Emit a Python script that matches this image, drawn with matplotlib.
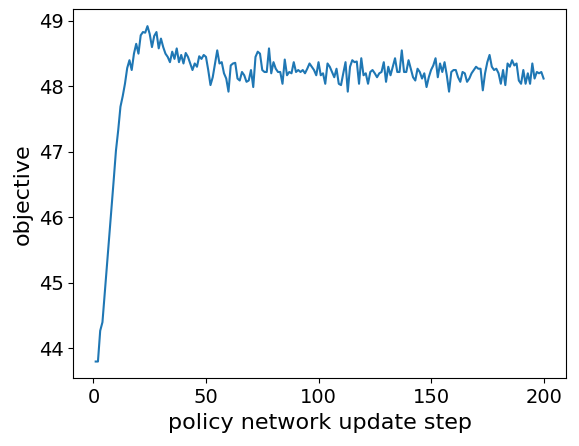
import matplotlib
matplotlib.use("Agg")
import matplotlib.pyplot as plt
import numpy as np

steps = list(range(1, 201))
objective = [
    43.80, 43.80, 44.27, 44.40, 44.83, 45.27, 45.70, 46.13, 46.57, 47.02,
    47.33, 47.69, 47.85, 48.04, 48.28, 48.40, 48.25, 48.50, 48.65, 48.50,
    48.78, 48.83, 48.82, 48.92,
    48.80, 48.60, 48.77, 48.83, 48.58, 48.73, 48.60, 48.50, 48.45, 48.37,
    48.53, 48.42, 48.58, 48.37, 48.48, 48.35, 48.51, 48.45, 48.35, 48.25,
    48.35, 48.30, 48.46, 48.42, 48.48, 48.45, 48.25, 48.02, 48.14, 48.35,
    48.55, 48.35, 48.37, 48.20, 48.12, 47.92,
    48.32, 48.35, 48.36, 48.12, 48.09, 48.22, 48.17, 48.07, 48.09, 48.25,
    47.99, 48.45, 48.53, 48.50, 48.25, 48.22, 48.22, 48.58, 48.20, 48.37,
    48.27, 48.22, 48.22, 48.04, 48.41, 48.17, 48.22, 48.20, 48.37, 48.22,
    48.25, 48.22, 48.25, 48.20, 48.27, 48.35, 48.30, 48.25, 48.17, 48.37,
    48.17,
    48.20, 48.04, 48.35, 48.30, 48.22, 48.14, 48.27, 48.04, 48.02, 48.20,
    48.37, 47.92, 48.30, 48.40, 48.37, 48.38, 48.04, 48.43, 48.17, 48.20,
    48.04, 48.22, 48.25, 48.20, 48.14, 48.20, 48.22, 48.37, 48.07, 48.30,
    48.17, 48.30, 48.43, 48.22, 48.22, 48.55, 48.22, 48.22, 48.40, 48.27,
    48.14, 48.09, 48.27, 48.22, 48.12, 48.20, 47.99, 48.14, 48.25, 48.32,
    48.43, 48.14, 48.35, 48.22, 48.37, 48.17, 47.92, 48.22, 48.25, 48.25,
    48.14, 48.07, 48.22,
    48.20, 48.07, 48.12, 48.20, 48.25, 48.30, 48.27, 48.27, 47.94, 48.20,
    48.37, 48.48, 48.30, 48.25, 48.27, 48.20, 48.04, 48.25, 48.02, 48.35,
    48.30, 48.40, 48.32, 48.35, 48.09, 48.04, 48.25, 48.04, 48.20, 48.04,
    48.35, 48.12, 48.22, 48.20, 48.22, 48.12,
]

xlabel = "policy network update step"
ylabel = "objective"

fig = plt.figure(figsize=(5.79, 4.46), dpi=100)
ax = fig.add_axes([0.1266, 0.1518, 0.8509, 0.8272])
ax.plot(steps, objective, color="#1f77b4", linewidth=1.5)
ax.set_xlabel(xlabel, fontsize=16)
ax.set_ylabel(ylabel, fontsize=16)
ax.tick_params(axis="both", labelsize=14)
ax.set_xticks([0, 50, 100, 150, 200])
ax.set_yticks([44, 45, 46, 47, 48, 49])
fig.savefig("out.png", dpi=100)
